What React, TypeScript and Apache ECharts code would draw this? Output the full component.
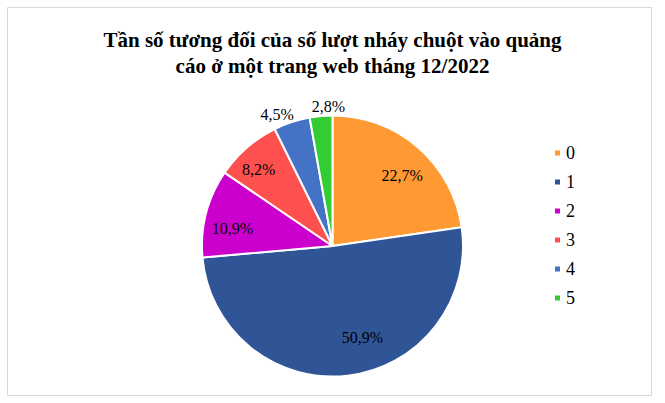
import React, { useEffect, useRef } from "react";
import * as echarts from "echarts";

const titleLines = [
  "Tần số tương đối của số lượt nháy chuột vào quảng",
  "cáo ở một trang web tháng 12/2022",
];
const categories = ["0", "1", "2", "3", "4", "5"];
const percentages = [22.7, 50.9, 10.9, 8.2, 4.5, 2.8];
const colors = ["#FF9933", "#2F5597", "#CC00CC", "#FF5050", "#4472C4", "#33CC33"];
const labelOffsets: [number, number][] = [
  [25, -19],
  [22, 24],
  [-34, 0],
  [-29, -25],
  [-34, -67],
  [2, -72],
];

const SERIF = "Liberation Serif";

export default function App() {
  const ref = useRef<HTMLDivElement>(null);
  useEffect(() => {
    if (!ref.current) return;
    const chart = echarts.init(ref.current, null, { renderer: "svg" });
    chart.setOption({
      animation: false,
      backgroundColor: "#ffffff",
      textStyle: { fontFamily: SERIF },
      graphic: [
        {
          type: "rect",
          shape: { x: 7.5, y: 7.5, width: 644, height: 388 },
          style: { fill: "none", stroke: "#D9D9D9", lineWidth: 1 },
          silent: true,
        },
      ],
      title: {
        text: titleLines.join("\n"),
        left: "center",
        top: 22,
        textStyle: {
          fontFamily: SERIF,
          fontSize: 21,
          fontWeight: "bold",
          lineHeight: 26,
          color: "#000000",
        },
      },
      legend: {
        orient: "vertical",
        left: 548,
        top: 139,
        itemWidth: 7,
        itemHeight: 7,
        itemGap: 11,
        icon: "rect",
        data: categories,
        textStyle: { fontFamily: SERIF, fontSize: 18, color: "#000000", lineHeight: 18 },
      },
      series: [
        {
          type: "pie",
          center: [332.5, 246],
          radius: [0, 130.5],
          startAngle: 90,
          clockwise: true,
          avoidLabelOverlap: false,
          itemStyle: { borderColor: "#ffffff", borderWidth: 2 },
          label: {
            show: true,
            position: "inside",
            fontFamily: SERIF,
            fontSize: 16,
            color: "#000000",
            formatter: (p: any) => p.value.toFixed(1).replace(".", ",") + "%",
          },
          labelLine: { show: false },
          emphasis: { disabled: true },
          data: categories.map((c, i) => ({
            name: c,
            value: percentages[i],
            itemStyle: { color: colors[i] },
            label: { offset: labelOffsets[i], fontFamily: SERIF },
          })),
        },
      ],
    });
    return () => chart.dispose();
  }, []);
  return (
    <div
      ref={ref}
      style={{ position: "absolute", left: 0, top: 0, width: 665, height: 403 }}
    />
  );
}
